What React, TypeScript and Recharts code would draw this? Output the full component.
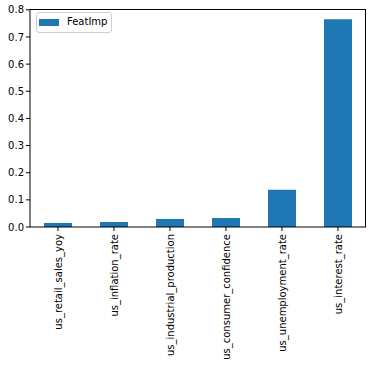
import { BarChart, Bar, XAxis, YAxis } from "recharts";

const features = [
  "us_retail_sales_yoy",
  "us_inflation_rate",
  "us_industrial_production",
  "us_consumer_confidence",
  "us_unemployment_rate",
  "us_interest_rate",
];
const featImp = [0.015, 0.0185, 0.0297, 0.033, 0.137, 0.765];
const yTicks = [0, 0.1, 0.2, 0.3, 0.4, 0.5, 0.6, 0.7, 0.8];

const data = features.map((name, i) => ({ name, FeatImp: featImp[i] }));

const FONT = "DejaVu Sans, sans-serif";
const W = 372;
const H = 367;
const M = { top: 9, right: 6, bottom: 0, left: 0 };
const Y_W = 30;
const X_H = 140;

function RotatedTick(props: any) {
  const { x, y, payload } = props;
  return (
    <text
      x={x}
      y={y}
      transform={`rotate(-90, ${x}, ${y})`}
      textAnchor="end"
      dominantBaseline="central"
      fontSize={10}
      fontFamily={FONT}
      fill="#000"
    >
      {payload.value}
    </text>
  );
}

function LegendBox() {
  return (
    <div
      style={{
        position: "absolute",
        left: 36,
        top: 12,
        width: 74,
        height: 19,
        border: "1px solid #d0d0d0",
        borderRadius: 3,
        background: "#fff",
        fontFamily: FONT,
        fontSize: 10,
      }}
    >
      <div style={{ position: "absolute", left: 2, top: 6, width: 20, height: 7, background: "#1f77b4" }} />
      <div style={{ position: "absolute", left: 30, top: 3, lineHeight: "12px", color: "#000" }}>FeatImp</div>
    </div>
  );
}

export default function App() {
  return (
    <div style={{ position: "absolute", left: 0, top: 0, width: W, height: H, background: "#fff" }}>
      <BarChart width={W} height={H} data={data} margin={M} barCategoryGap="25%">
        <XAxis
          dataKey="name"
          height={X_H}
          interval={0}
          tick={<RotatedTick />}
          tickSize={4}
          tickMargin={3}
          stroke="#000"
        />
        <YAxis
          domain={[0, 0.803]}
          ticks={yTicks}
          tickFormatter={(v: number) => v.toFixed(1)}
          width={Y_W}
          tickSize={4}
          tickMargin={2}
          stroke="#000"
          tick={{ fontSize: 10, fontFamily: FONT, fill: "#000" }}
          allowDataOverflow
        />
        <Bar dataKey="FeatImp" fill="#1f77b4" isAnimationActive={false} />
      </BarChart>
      {/* top and right spines */}
      <div
        style={{
          position: "absolute",
          left: M.left + Y_W,
          top: M.top,
          width: W - M.left - M.right - Y_W,
          height: H - M.top - M.bottom - X_H,
          borderTop: "1px solid #000",
          borderRight: "1px solid #000",
          boxSizing: "border-box",
          pointerEvents: "none",
        }}
      />
      <LegendBox />
    </div>
  );
}
